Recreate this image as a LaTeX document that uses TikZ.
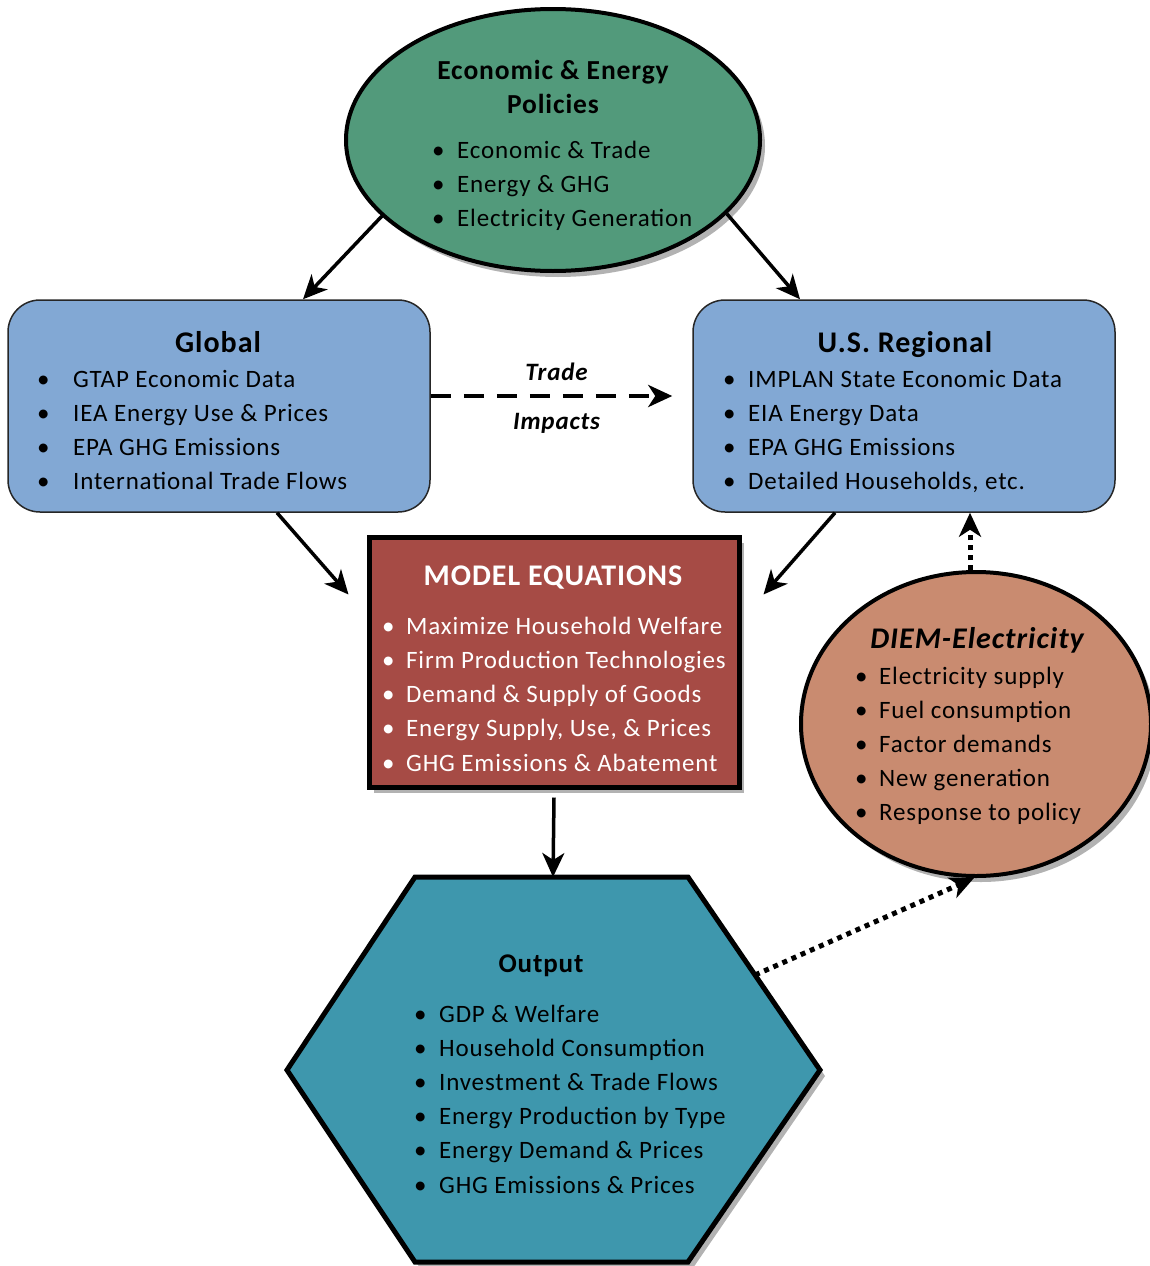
\documentclass[tikz,border=0pt]{standalone}
\usepackage{fontspec}
\setmainfont{Carlito}[LetterSpace=3.3]
\usetikzlibrary{shapes.geometric,arrows.meta,shadows,calc}

\definecolor{polgreen}{HTML}{529A7B}
\definecolor{boxblue}{HTML}{82A8D4}
\definecolor{eqred}{HTML}{A64B45}
\definecolor{diemtan}{HTML}{C98B70}
\definecolor{outteal}{HTML}{3E97AD}

\tikzset{
  x=1pt, y=-1pt,
  shade/.style={drop shadow={shadow xshift=5pt, shadow yshift=-6pt, fill=black, opacity=0.3}},
  databox/.style={draw=black!85, line width=1.5pt, fill=boxblue, rounded corners=32pt,
    minimum width=422pt, minimum height=212pt, inner sep=0pt},
  bodytext/.style={font=\fontsize{25}{29}\selectfont, inner sep=0pt, anchor=base west},
  heading/.style={font=\fontsize{30}{34}\selectfont\bfseries, inner sep=0pt, anchor=base},
  flow/.style={line width=3.5pt, -{Stealth[length=24pt, width=22pt, inset=7pt]}},
  dotflow/.style={line width=5pt, dash pattern=on 5pt off 5pt,
    -{Stealth[length=24pt, width=22pt, inset=7pt]}},
}

\begin{document}
\begin{tikzpicture}
\useasboundingbox (0,0) rectangle (1150,1266);

% policy ellipse
\node[ellipse, draw, line width=4pt, fill=polgreen, shade,
  minimum width=414pt, minimum height=262pt, inner sep=0pt] (pol) at (553,140) {};
\node[heading, font=\fontsize{27.5}{32}\selectfont\bfseries] (polt1) at (553,79) {Economic \& Energy};
\node[heading, font=\fontsize{27.5}{32}\selectfont\bfseries] (polt2) at (553,113) {Policies};
\foreach \t [count=\i] in {Economic \& Trade, Energy \& GHG, Electricity Generation}
  \node[bodytext] (pol\i) at (432,{158+34*(\i-1)}) {\makebox[25pt][l]{\textbullet}\t};

% data boxes
\node[databox] (glob) at (219,406) {};
\node[heading] (globt) at (218,352) {Global};
\foreach \t [count=\i] in {GTAP Economic Data, IEA Energy Use \& Prices, EPA GHG Emissions, International Trade Flows}
  \node[bodytext] (glob\i) at (37,{387+34*(\i-1)}) {\makebox[36pt][l]{\textbullet}\t};

\node[databox] (us) at (904,406) {};
\node[heading] (ust) at (905,352) {U.S. Regional};
\foreach \t [count=\i] in {IMPLAN State Economic Data, EIA Energy Data, EPA GHG Emissions, {Detailed Households, etc.}}
  \node[bodytext] (us\i) at (723,{387+34*(\i-1)}) {\makebox[25pt][l]{\textbullet}\t};

% model equations
\node[draw, line width=5pt, fill=eqred, shade, minimum width=370pt, minimum height=250pt,
  inner sep=0pt] (eq) at (554,662) {};
\node[heading, text=white] (eqt) at (553,585) {MODEL EQUATIONS};
\foreach \t [count=\i] in {Maximize Household Welfare, Firm Production Technologies, Demand \& Supply of Goods, {Energy Supply, Use, \& Prices}, GHG Emissions \& Abatement}
  \node[bodytext, text=white] (eq\i) at (382,{634+34.3*(\i-1)}) {\makebox[24pt][l]{\textbullet}\t};

% electricity sub-model
\node[ellipse, draw, line width=4pt, fill=diemtan, shade,
  minimum width=350pt, minimum height=304pt, inner sep=0pt] (diem) at (976,724) {};
\node[heading, font=\fontsize{30}{34}\selectfont\bfseries\itshape] (diemt) at (977,648) {DIEM-Electricity};
\foreach \t [count=\i] in {Electricity supply, Fuel consumption, Factor demands, New generation, Response to policy}
  \node[bodytext] (diem\i) at (855,{684+34.2*(\i-1)}) {\makebox[24pt][l]{\textbullet}\t};

% output hexagon
\draw[line width=5pt, fill=outteal, shade, line join=miter]
  (415,877) -- (688,877) -- (820,1070) -- (688,1262) -- (415,1262) -- (287,1070) -- cycle;
\coordinate (hextop) at (553,877);
\coordinate (hexedge) at (755,975);
\node[heading, font=\fontsize{27}{32}\selectfont\bfseries] (outt) at (541,972) {Output};
\foreach \t [count=\i] in {GDP \& Welfare, Household Consumption, Investment \& Trade Flows, Energy Production by Type, Energy Demand \& Prices, GHG Emissions \& Prices}
  \node[bodytext] (out\i) at (414,{1022+34.2*(\i-1)}) {\makebox[25pt][l]{\textbullet}\t};

% connectors
\draw[flow] (pol.-156) -- ([xshift=84pt]glob.north);
\draw[flow] (pol.-23) -- ([xshift=-104pt]us.north);
\draw[line width=4.5pt, dash pattern=on 20pt off 13pt, -{Stealth[length=24pt, width=22pt, inset=7pt]}]
  ([yshift=10pt]glob.east) -- ([yshift=10pt, xshift=-20pt]us.west)
  node[midway, above=10pt, xshift=5pt, font=\fontsize{25}{29}\selectfont\bfseries\itshape] (trade) {Trade}
  node[midway, below=12pt, xshift=5pt, font=\fontsize{25}{29}\selectfont\bfseries\itshape] (impacts) {Impacts};
\draw[flow] ([xshift=58pt]glob.south) -- ([xshift=-18pt, yshift=-60pt]eq.north west);
\draw[flow] ([xshift=-69pt]us.south) -- ([xshift=22pt, yshift=-60pt]eq.north east);
\draw[flow] ([yshift=-8pt]eq.south) -- (hextop);
\draw[dotflow] (hexedge) -- ([xshift=-2pt]diem.south);
\draw[dotflow] ([xshift=-6pt]diem.north) -- ([xshift=66pt]us.south);
\end{tikzpicture}
\end{document}
